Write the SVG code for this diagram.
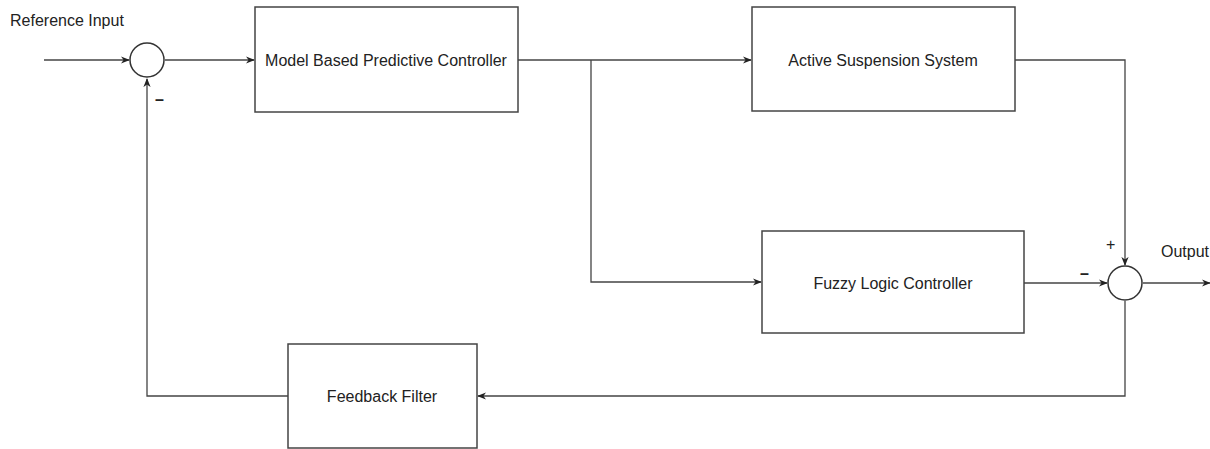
<svg xmlns="http://www.w3.org/2000/svg" width="1210" height="449" viewBox="0 0 1210 449">
<style>
.box{fill:#fff;stroke:#444;stroke-width:1.5}
.sum{fill:#fff;stroke:#333;stroke-width:1.5}
.ln{fill:none;stroke:#444;stroke-width:1.3}
text{font-family:"Liberation Sans",Arial,sans-serif;font-size:16px;fill:#222}
.c{text-anchor:middle}
.sign{font-size:16px;font-weight:bold}
</style>
<defs>
<marker id="arr" viewBox="0 0 10 10" refX="9" refY="5" markerWidth="9" markerHeight="9" orient="auto" markerUnits="userSpaceOnUse">
<path d="M0,1 L10,5 L0,9 L3,5 Z" fill="#222"/>
</marker>
</defs>
<rect width="1210" height="449" fill="#fff"/>
<g id="connectors">
<path class="ln" d="M44,60 H129" marker-end="url(#arr)"/>
<path class="ln" d="M165,60 H254" marker-end="url(#arr)"/>
<path class="ln" d="M518,60 H751" marker-end="url(#arr)"/>
<path class="ln" d="M591,60 V282 H761" marker-end="url(#arr)"/>
<path class="ln" d="M1015,60 H1125 V265" marker-end="url(#arr)"/>
<path class="ln" d="M1024,283 H1107" marker-end="url(#arr)"/>
<path class="ln" d="M1143,283 H1210" marker-end="url(#arr)"/>
<path class="ln" d="M1125,301 V396 H478" marker-end="url(#arr)"/>
<path class="ln" d="M288,396 H147 V79" marker-end="url(#arr)"/>
</g>
<g id="sum1">
<circle class="sum" cx="147" cy="60" r="17"/>
<text class="sign" x="155" y="105">–</text>
</g>
<g id="sum2">
<circle class="sum" cx="1125" cy="283" r="17"/>
<text x="1106" y="250" font-size="13">+</text>
<text class="sign" x="1080" y="279">–</text>
</g>
<g id="reference-input"><text x="10" y="26">Reference Input</text></g>
<g id="output"><text x="1161" y="257">Output</text></g>
<g id="mbpc">
<rect class="box" x="255" y="7" width="263" height="105"/>
<text class="c" x="386" y="66">Model Based Predictive Controller</text>
</g>
<g id="ass">
<rect class="box" x="752" y="7" width="263" height="104"/>
<text class="c" x="883" y="66">Active Suspension System</text>
</g>
<g id="flc">
<rect class="box" x="762" y="231" width="262" height="102"/>
<text class="c" x="893" y="289">Fuzzy Logic Controller</text>
</g>
<g id="ff">
<rect class="box" x="288" y="344" width="189" height="104"/>
<text class="c" x="382" y="402">Feedback Filter</text>
</g>
</svg>
